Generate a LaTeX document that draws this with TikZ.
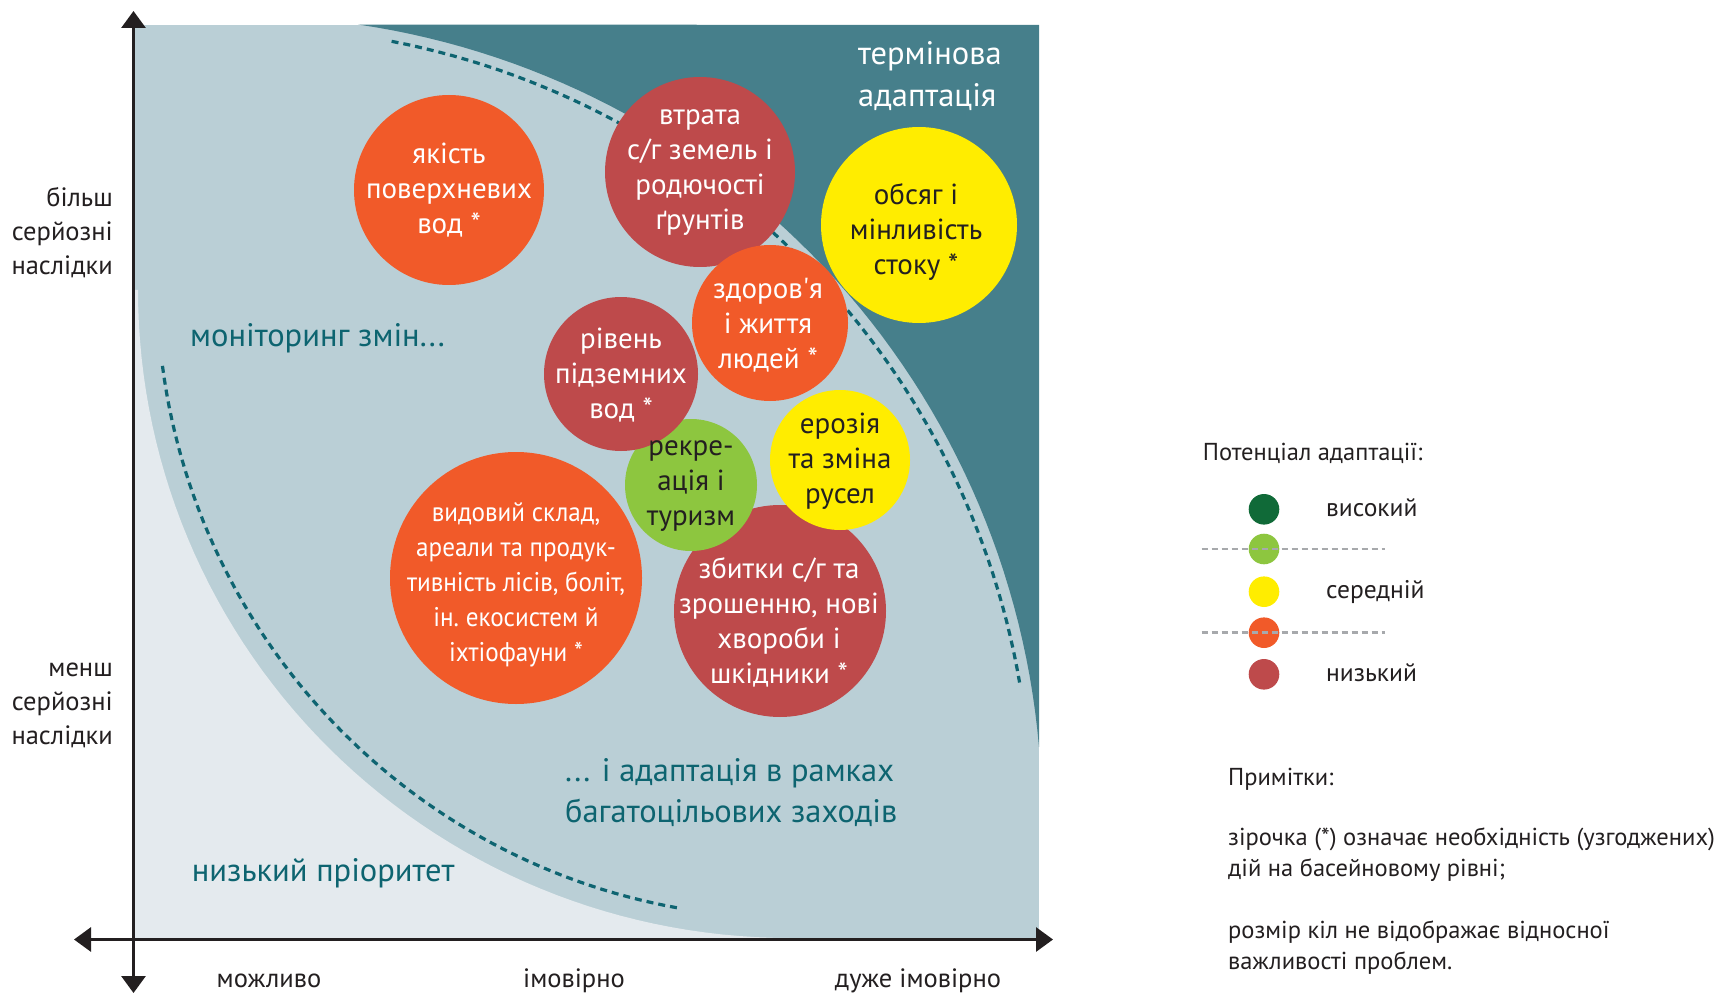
\documentclass[tikz,border=0pt]{standalone}
\usepackage{fontspec}
\setmainfont{PT Sans}
\newfontfamily\condf{PT Sans}[FakeStretch=0.93]
\usetikzlibrary{arrows.meta}
\definecolor{darkteal}{HTML}{467F8B}
\definecolor{midblue}{HTML}{BACFD6}
\definecolor{lightblue}{HTML}{E4EAEE}
\definecolor{tealtext}{HTML}{0D6470}
\definecolor{dashcol}{HTML}{0E6471}
\definecolor{corange}{HTML}{F15A29}
\definecolor{cred}{HTML}{BE4A4B}
\definecolor{cyellow}{HTML}{FFED00}
\definecolor{cgreen}{HTML}{8DC63F}
\definecolor{cdkgreen}{HTML}{106A38}
\definecolor{ink}{HTML}{231F20}
\definecolor{legdashcol}{HTML}{A7A9AC}
\newcommand\sapos{\XeTeXglyph\XeTeXcharglyph"27\relax}
\tikzset{
  bubble/.style={circle, inner sep=0pt, draw=none},
  btext/.style={align=center, inner sep=0pt, font=\frenchspacing\fontsize{29}{35}\selectfont},
  wtext/.style={btext, text=white},
  dtext/.style={btext, text=ink},
  regionlab/.style={anchor=base west, inner sep=0pt, text=tealtext, font=\fontsize{32.5}{40}\selectfont},
  axlab/.style={text=ink, inner sep=0pt, font=\fontsize{26.5}{34}\selectfont},
  dashline/.style={draw=dashcol, line width=3.2pt, dash pattern=on 7pt off 5pt},
  legdashline/.style={draw=legdashcol, line width=2.7pt, dash pattern=on 6pt off 4pt},
  legdot/.style={circle, minimum size=30.6pt, inner sep=0pt, draw=none},
  legtext/.style={anchor=base west, inner sep=0pt, text=ink, font=\fontsize{24.5}{30}\selectfont},
  legitem/.style={legtext, font=\fontsize{25.5}{30}\selectfont},
  axisline/.style={draw=ink, line width=3pt, {Triangle[length=17pt,width=24pt]}-{Triangle[length=17pt,width=24pt]}},
}
\begin{document}
\begin{tikzpicture}[x=1pt,y=-1pt]
\path[use as bounding box] (0,0) rectangle (1717,995);
% plot regions
\fill[midblue] (133.5,25) rectangle (1039,938);
\fill[lightblue] (133.5,938) -- (133.5,290) -- plot[domain=180:90, samples=61, variable=\t] ({790+652*cos(\t)},{290+648*sin(\t)}) -- cycle;
\fill[darkteal] (1039,25) -- plot[domain=-81.66:-4.95, samples=61, variable=\t] ({242+800*cos(\t)},{816+800*sin(\t)}) -- cycle;
% dashed boundaries
\draw[dashline] plot[domain=-79.07:-9.74, samples=61, variable=\t] ({242+789*cos(\t)},{816+789*sin(\t)});
\draw[dashline] plot[domain=172.5:100, samples=61, variable=\t] ({790+633*cos(\t)},{283+635*sin(\t)});
% bubbles
\node[bubble, fill=corange, minimum size=252pt] (c8) at (516,578) {};
\node[bubble, fill=cred, minimum size=212pt] (c9) at (780,611) {};
\node[bubble, fill=cgreen, minimum size=132pt] (c6) at (691,485) {};
\node[bubble, fill=cred, minimum size=154pt] (c5) at (621,374) {};
\node[bubble, fill=cred, minimum size=190pt] (c2) at (700,172) {};
\node[bubble, fill=corange, minimum size=156pt] (c4) at (770,323) {};
\node[bubble, fill=cyellow, minimum size=140pt] (c7) at (840,460) {};
\node[bubble, fill=cyellow, minimum size=196pt] (c3) at (919,225) {};
\node[bubble, fill=corange, minimum size=190pt] (c1) at (449,190) {};
% bubble texts
\node[wtext] (t1) at (449,190) {якість\\поверхневих\\вод *};
\node[wtext] (t2) at (700,173) {втрата\\с/г земель і\\родючості\\ґрунтів};
\node[dtext] (t3) at (916,232) {обсяг і\\мінливість\\стоку *};
\node[wtext] (t4) at (768,325) {здоров\sapos я\\і життя\\людей *};
\node[wtext] (t5) at (621,375) {рівень\\підземних\\вод *};
\node[dtext] (t6) at (691,486) {рекре-\\ація і\\туризм};
\node[dtext] (t7) at (840,461) {ерозія\\та зміна\\русел};
\node[wtext, font=\frenchspacing\condf\fontsize{27}{35}\selectfont] (t8) at (516,585) {видовий склад,\\ареали та продук-\\тивність лісів, боліт,\\ін. екосистем й\\іхтіофауни *};
\node[wtext] (t9) at (779,622) {збитки с/г та\\зрошенню, нові\\хвороби і\\шкідники *};
% axes
\coordinate (yt) at (133.5,11);
\coordinate (yb) at (133.5,993);
\coordinate (xl) at (74,939.5);
\coordinate (xr) at (1053,939.5);
\draw[axisline] (yb) -- (yt);
\draw[axisline] (xl) -- (xr);
% axis labels
\node[axlab, anchor=east, align=right] (more) at (113,233) {більш\\серйозні\\наслідки};
\node[axlab, anchor=east, align=right] (less) at (113,705) {менш\\серйозні\\наслідки};
\node[axlab] (p1) at (269,981) {можливо};
\node[axlab] (p2) at (574,981) {імовірно};
\node[axlab] (p3) at (918,981) {дуже імовірно};
% region labels
\node[regionlab] (mon) at (190,346.7) {моніторинг змін...};
\node[regionlab] (low) at (191.7,881.7) {низький пріоритет};
\node[regionlab] (ad1) at (565,781.7) {... і адаптація в рамках};
\node[regionlab] (ad2) at (565,822.7) {багатоцільових заходів};
\node[regionlab, text=white] (urg1) at (858,65) {термінова};
\node[regionlab, text=white] (urg2) at (858,107) {адаптація};
% legend
\node[legtext] (legt) at (1202.7,460.7) {Потенціал адаптації:};
\node[legdot, fill=cdkgreen] (l1) at (1264,509.3) {};
\node[legdot, fill=cgreen] (l2) at (1264,549) {};
\node[legdot, fill=cyellow] (l3) at (1264,591.7) {};
\node[legdot, fill=corange] (l4) at (1264,632.7) {};
\node[legdot, fill=cred] (l5) at (1264,674.3) {};
\coordinate (d1a) at (1201.7,549);
\coordinate (d1b) at (1385,549);
\coordinate (d2a) at (1201.7,632.5);
\coordinate (d2b) at (1385,632.5);
\draw[legdashline] (d1a) -- (d1b);
\draw[legdashline] (d2a) -- (d2b);
\node[legitem] (lhi) at (1326,516) {високий};
\node[legitem] (lmid) at (1326,598.3) {середній};
\node[legitem] (llow) at (1326,681.7) {низький};
% notes
\node[legtext] (n0) at (1228,785.5) {Примітки:};
\node[legtext] (n1) at (1228,845) {зірочка (*) означає необхідність (узгоджених)};
\node[legtext] (n2) at (1228,876.5) {дій на басейновому рівні;};
\node[legtext] (n3) at (1228,938) {розмір кіл не відображає відносної};
\node[legtext] (n4) at (1228,969) {важливості проблем.};
\end{tikzpicture}
\end{document}
